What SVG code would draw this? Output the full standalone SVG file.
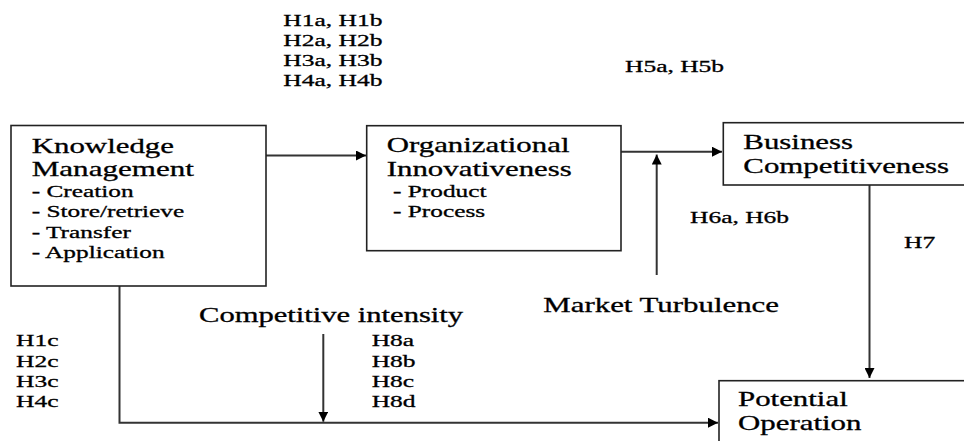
<svg xmlns="http://www.w3.org/2000/svg" width="964" height="441" viewBox="0 0 964 441">
<style>
.box{fill:#fff;stroke:#222;stroke-width:1.6}
.ln{fill:none;stroke:#333;stroke-width:2}
</style>
<defs>
<marker id="ah" viewBox="0 0 10 10" refX="10" refY="5" markerWidth="10" markerHeight="10" markerUnits="userSpaceOnUse" orient="auto">
<path d="M0,0 L10,5 L0,10 z" fill="#000"/>
</marker>
</defs>
<rect width="964" height="441" fill="#fff"/>
<g id="connectors">
<line class="ln" x1="266" y1="155.5" x2="366" y2="155.5" marker-end="url(#ah)"/>
<line class="ln" x1="617" y1="151.7" x2="722" y2="151.7" marker-end="url(#ah)"/>
<line class="ln" x1="656.7" y1="275" x2="656.7" y2="154.5" marker-end="url(#ah)"/>
<line class="ln" x1="869.5" y1="185" x2="869.5" y2="378" marker-end="url(#ah)"/>
<polyline class="ln" points="119.5,286 119.5,422.7 718,422.7" marker-end="url(#ah)"/>
<line class="ln" x1="323.3" y1="334" x2="323.3" y2="421.7" marker-end="url(#ah)"/>
</g>
<g id="km" stroke="#000" stroke-width="0.3">
<rect class="box" x="11" y="125.5" width="255" height="160.5"/>
<text font-family="Liberation Serif" font-size="21" transform="matrix(1.47 0 0 1 31.7 152.5)">Knowledge</text>
<text font-family="Liberation Serif" font-size="21" transform="matrix(1.48 0 0 1 31.7 176)">Management</text>
<text font-family="Liberation Serif" font-size="17" transform="matrix(1.49 0 0 1 31.7 196.7)">- Creation</text>
<text font-family="Liberation Serif" font-size="17" transform="matrix(1.49 0 0 1 31.7 216.7)">- Store/retrieve</text>
<text font-family="Liberation Serif" font-size="17" transform="matrix(1.49 0 0 1 31.7 237.5)">- Transfer</text>
<text font-family="Liberation Serif" font-size="17" transform="matrix(1.49 0 0 1 31.7 257.5)">- Application</text>
</g>
<g id="oi" stroke="#000" stroke-width="0.3">
<rect class="box" x="366.7" y="125.7" width="254.3" height="125"/>
<text font-family="Liberation Serif" font-size="21" transform="matrix(1.47 0 0 1 386.7 152)">Organizational</text>
<text font-family="Liberation Serif" font-size="21" transform="matrix(1.47 0 0 1 386.7 175.7)">Innovativeness</text>
<text font-family="Liberation Serif" font-size="17" transform="matrix(1.49 0 0 1 393 196.7)">- Product</text>
<text font-family="Liberation Serif" font-size="17" transform="matrix(1.49 0 0 1 393 216.7)">- Process</text>
</g>
<g id="bc" stroke="#000" stroke-width="0.3">
<rect class="box" x="723.3" y="122.7" width="260" height="62.3"/>
<text font-family="Liberation Serif" font-size="21" transform="matrix(1.47 0 0 1 743.3 149.3)">Business</text>
<text font-family="Liberation Serif" font-size="21" transform="matrix(1.47 0 0 1 743.3 173.3)">Competitiveness</text>
</g>
<g id="po" stroke="#000" stroke-width="0.3">
<rect class="box" x="719" y="380.7" width="270" height="80"/>
<text font-family="Liberation Serif" font-size="21" transform="matrix(1.47 0 0 1 738 405.7)">Potential</text>
<text font-family="Liberation Serif" font-size="21" transform="matrix(1.47 0 0 1 738 430)">Operation</text>
</g>
<g id="ci" stroke="#000" stroke-width="0.3">
<text font-family="Liberation Serif" font-size="20" transform="matrix(1.53 0 0 1 199 322.3)">Competitive intensity</text>
</g>
<g id="mt" stroke="#000" stroke-width="0.3">
<text font-family="Liberation Serif" font-size="21" transform="matrix(1.47 0 0 1 543.3 311.7)">Market Turbulence</text>
</g>
<g id="labels" stroke="#000" stroke-width="0.3">
<text font-family="Liberation Serif" font-size="17" transform="matrix(1.5 0 0 1 283.3 25.5)">H1a, H1b</text>
<text font-family="Liberation Serif" font-size="17" transform="matrix(1.5 0 0 1 283.3 45.5)">H2a, H2b</text>
<text font-family="Liberation Serif" font-size="17" transform="matrix(1.5 0 0 1 283.3 65.5)">H3a, H3b</text>
<text font-family="Liberation Serif" font-size="17" transform="matrix(1.5 0 0 1 283.3 85.5)">H4a, H4b</text>
<text font-family="Liberation Serif" font-size="17" transform="matrix(1.5 0 0 1 625 72)">H5a, H5b</text>
<text font-family="Liberation Serif" font-size="17" transform="matrix(1.5 0 0 1 690 223.3)">H6a, H6b</text>
<text font-family="Liberation Serif" font-size="17" transform="matrix(1.5 0 0 1 904 248.3)">H7</text>
<text font-family="Liberation Serif" font-size="17" transform="matrix(1.5 0 0 1 16 346)">H1c</text>
<text font-family="Liberation Serif" font-size="17" transform="matrix(1.5 0 0 1 16 366.5)">H2c</text>
<text font-family="Liberation Serif" font-size="17" transform="matrix(1.5 0 0 1 16 386.5)">H3c</text>
<text font-family="Liberation Serif" font-size="17" transform="matrix(1.5 0 0 1 16 406.5)">H4c</text>
<text font-family="Liberation Serif" font-size="17" transform="matrix(1.5 0 0 1 371.7 346)">H8a</text>
<text font-family="Liberation Serif" font-size="17" transform="matrix(1.5 0 0 1 371.7 366.5)">H8b</text>
<text font-family="Liberation Serif" font-size="17" transform="matrix(1.5 0 0 1 371.7 386.5)">H8c</text>
<text font-family="Liberation Serif" font-size="17" transform="matrix(1.5 0 0 1 371.7 406.5)">H8d</text>
</g>
</svg>
